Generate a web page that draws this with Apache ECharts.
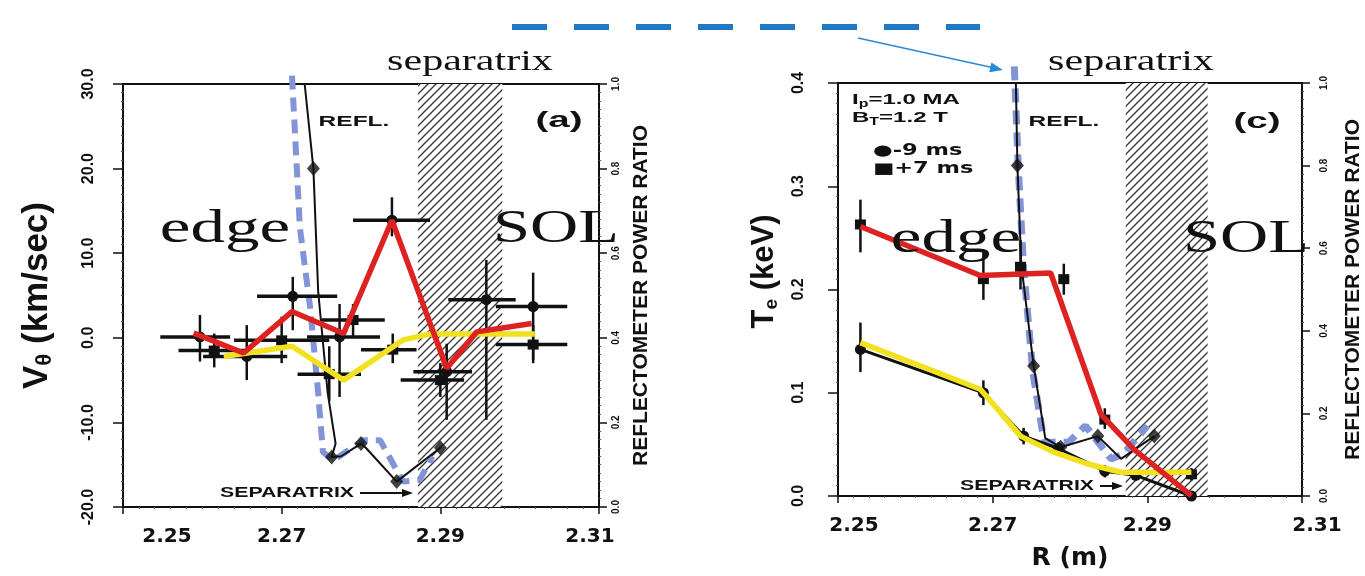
<!DOCTYPE html>
<html><head><meta charset="utf-8">
<script src="https://cdn.jsdelivr.net/npm/echarts@6/dist/echarts.min.js"></script>
<style>html,body{margin:0;padding:0;background:#fff}#c{width:1365px;height:576px}</style>
</head><body><div id="c"></div>
<script>
// ---------- axes ----------
const xTicksR = [2.25, 2.27, 2.29, 2.31];
const sepBand = [2.2872, 2.2978];          // hatched separatrix band (R, m)

// ---------- panel (a): V_theta (km/s) ----------
const aRed    = [[2.2589,0.55],[2.2652,-1.8],[2.2713,3.1],[2.2778,0.5],[2.2839,13.9],[2.2908,-3.6],[2.2946,0.7],[2.3015,1.7]];
const aYellow = [[2.2627,-2.2],[2.2713,-1.0],[2.2778,-5.0],[2.2853,-0.25],[2.2887,0.45],[2.3019,0.45]];
// [R, V, Rlo, Rhi, Vlo, Vhi]
const aCircle = [[2.2597,0.1,2.2547,2.2635,-2.8,2.7],[2.2656,-2.2,2.2601,2.2707,-5.0,1.5],[2.2714,4.9,2.2669,2.2770,0.9,7.2],
                 [2.2773,0.1,2.2732,2.2824,-7.0,4.0],[2.2839,13.9,2.2790,2.2887,12.0,16.6],[2.2908,-4.0,2.2866,2.2940,-9.7,-0.7],
                 [2.2958,4.5,2.2910,2.2995,-9.7,9.2],[2.3017,3.7,2.2970,2.3060,-2.6,7.7]];
const aSquare = [[2.2615,-1.5,2.2570,2.2660,-3.5,0.5],[2.2700,-0.3,2.2640,2.2760,-3.0,2.5],[2.2760,-4.3,2.2720,2.2800,-7.5,-1.0],
                 [2.2790,2.1,2.2750,2.2830,0.0,4.0],[2.2840,-1.4,2.2800,2.2870,-3.0,0.5],[2.2900,-5.0,2.2850,2.2930,-7.0,-3.0],
                 [2.3017,-0.8,2.2970,2.3060,-3.0,1.5]];
const aRefl      = [[2.2729,1.0],[2.2740,0.80],[2.2746,0.51],[2.2758,0.27],[2.2768,0.15],[2.2763,0.118],[2.2775,0.12],[2.2800,0.15],[2.2806,0.14],[2.2845,0.06],[2.2900,0.14]];
const aReflMarks = [[2.2740,0.80],[2.2763,0.118],[2.2800,0.15],[2.2845,0.06],[2.2900,0.14]];
const aBlue      = [[2.2713,1.02],[2.2723,0.66],[2.2736,0.47],[2.2746,0.27],[2.2752,0.13],[2.2765,0.11],[2.2803,0.158],[2.2824,0.158],[2.2853,0.06],[2.2874,0.064],[2.2890,0.12]];

// ---------- panel (c): Te (keV) ----------
const cRed    = [[2.2529,0.261],[2.2684,0.2135],[2.2775,0.216],[2.2840,0.079],[2.2883,0.045],[2.2957,0.0003]];
const cYellow = [[2.2529,0.1485],[2.2684,0.1034],[2.2710,0.081],[2.2736,0.058],[2.2779,0.0425],[2.2823,0.031],[2.2866,0.023],[2.2957,0.023]];
const cCircle = [[2.2529,0.142,2.2529,2.2529,0.120,0.168],[2.2688,0.100,2.2688,2.2688,0.088,0.112],[2.2740,0.058,2.2740,2.2740,0.050,0.066],
                 [2.2785,0.046,2.2785,2.2785,0.040,0.052],[2.2845,0.024,2.2845,2.2845,0.018,0.030],[2.2885,0.020,2.2885,2.2885,0.015,0.025],
                 [2.2957,0.000,2.2957,2.2957,-0.004,0.004]];
const cSquare = [[2.2529,0.263,2.2529,2.2529,0.236,0.287],[2.2688,0.210,2.2688,2.2688,0.190,0.236],[2.2736,0.222,2.2736,2.2736,0.200,0.248],
                 [2.2792,0.210,2.2792,2.2792,0.195,0.225],[2.2845,0.074,2.2845,2.2845,0.065,0.085],[2.2957,0.021,2.2957,2.2957,0.015,0.027]];
const cRefl      = [[2.2730,1.0],[2.2732,0.80],[2.2737,0.56],[2.2753,0.315],[2.2768,0.14],[2.2788,0.118],[2.2836,0.145],[2.2866,0.09],[2.2909,0.145]];
const cReflMarks = [[2.2732,0.80],[2.2753,0.315],[2.2788,0.118],[2.2836,0.145],[2.2909,0.145]];
const cBlue      = [[2.2728,1.04],[2.2733,0.80],[2.2740,0.55],[2.2752,0.30],[2.2764,0.16],[2.2768,0.13],[2.2798,0.13],[2.2820,0.17],[2.2853,0.09],[2.2868,0.10],[2.2900,0.17]];

// ---------- hatch pattern ----------
const hc = document.createElement('canvas'); hc.width = 8; hc.height = 8;
const g = hc.getContext('2d');
g.fillStyle = '#fff'; g.fillRect(0,0,8,8);
g.strokeStyle = '#333'; g.lineWidth = 1.3;
g.beginPath(); g.moveTo(-2,10); g.lineTo(10,-2); g.moveTo(-2,2); g.lineTo(2,-2); g.moveTo(6,10); g.lineTo(10,6); g.stroke();
const hatch = { image: hc, repeat: 'repeat' };

const BK = '#111';
const SANS = "'Liberation Sans', Arial, sans-serif";
const SERIF = "'Liberation Serif', 'Times New Roman', serif";

function errSeries(data, shape, xi, yi) {
  return {
    type: 'custom', xAxisIndex: xi, yAxisIndex: yi, z: 4, data: data,
    encode: { x: 0, y: 1 },
    renderItem: function (params, api) {
      const x = api.value(0), y = api.value(1);
      const c = api.coord([x, y]);
      const a = api.coord([api.value(2), y]), b = api.coord([api.value(3), y]);
      const d = api.coord([x, api.value(4)]), e = api.coord([x, api.value(5)]);
      const ch = [];
      if (Math.abs(b[0] - a[0]) > 1) ch.push({ type: 'line', shape: { x1: a[0], y1: a[1], x2: b[0], y2: b[1] }, style: { stroke: BK, lineWidth: 3.5 } });
      ch.push({ type: 'line', shape: { x1: d[0], y1: d[1], x2: e[0], y2: e[1] }, style: { stroke: BK, lineWidth: 2.5 } });
      if (shape === 'circle') ch.push({ type: 'circle', shape: { cx: c[0], cy: c[1], r: 5.5 }, style: { fill: BK } });
      else ch.push({ type: 'rect', shape: { x: c[0] - 5.5, y: c[1] - 5, width: 11, height: 10 }, style: { fill: BK } });
      return { type: 'group', children: ch };
    }
  };
}

function xAxisDef(gi, lp, rp, withName) {
  const rich = {
    n: { fontFamily: "'DejaVu Sans', sans-serif", fontWeight: 'bold', fontSize: 20, color: BK },
    l: { fontFamily: "'DejaVu Sans', sans-serif", fontWeight: 'bold', fontSize: 20, color: BK, padding: [0, 0, 0, lp] },
    r: { fontFamily: "'DejaVu Sans', sans-serif", fontWeight: 'bold', fontSize: 20, color: BK, padding: rp }
  };
  const ax = {
    type: 'value', gridIndex: gi, min: xTicksR[0], max: xTicksR[xTicksR.length - 1], interval: 0.02,
    axisLine: { show: true, onZero: false, lineStyle: { color: BK, width: 2 } },
    axisTick: { show: true, length: 7, lineStyle: { color: BK, width: 1.5 } },
    minorTick: { show: true, splitNumber: 10, length: 2, lineStyle: { color: '#555', width: 1 } },
    splitLine: { show: false },
    axisLabel: {
      margin: 20, rich: rich,
      formatter: function (v) {
        const s = v.toFixed(2);
        if (Math.abs(v - xTicksR[0]) < 1e-6) return '{l|' + s + '}';
        if (Math.abs(v - xTicksR[3]) < 1e-6) return '{r|' + s + '}';
        return '{n|' + s + '}';
      }
    }
  };
  if (withName) {
    ax.name = 'R (m)'; ax.nameLocation = 'middle'; ax.nameGap = 50;
    ax.nameTextStyle = { fontFamily: "'DejaVu Sans', sans-serif", fontWeight: 'bold', fontSize: 25, color: BK };
  }
  return ax;
}

function yLeft(gi, min, max, step, dec, name, gap, margin, fs, pad) {
  return {
    type: 'value', gridIndex: gi, position: 'left', min: min, max: max, interval: step,
    name: name, nameLocation: 'middle', nameGap: gap, nameRotate: 90,
    nameTextStyle: { fontFamily: SANS, fontWeight: 'bold', fontSize: fs, color: BK, padding: pad,
      rich: { s: { fontFamily: SANS, fontWeight: 'bold', fontSize: Math.round(fs * 0.62), color: BK, verticalAlign: 'bottom', padding: [Math.round(fs * 0.45), 0, 0, 0] } } },
    axisLine: { show: true, onZero: false, lineStyle: { color: BK, width: 2 } },
    axisTick: { show: true, length: 10, lineStyle: { color: BK, width: 1.5 } },
    minorTick: { show: true, splitNumber: 10, length: 2, lineStyle: { color: '#555', width: 1 } },
    splitLine: { show: false },
    axisLabel: { rotate: 90, margin: margin, fontFamily: SANS, fontWeight: 'bold', fontSize: 16, color: BK,
      formatter: function (v) { return v.toFixed(dec); } }
  };
}

function yRight(gi, gap, margin) {
  return {
    type: 'value', gridIndex: gi, position: 'right', min: 0, max: 1, interval: 0.2,
    name: 'REFLECTOMETER POWER RATIO', nameLocation: 'middle', nameGap: gap, nameRotate: 90,
    nameTextStyle: { fontFamily: SANS, fontWeight: 'bold', fontSize: 21, color: BK },
    axisLine: { show: true, onZero: false, lineStyle: { color: BK, width: 2 } },
    axisTick: { show: true, length: 8, lineStyle: { color: BK, width: 1.5 } },
    minorTick: { show: true, splitNumber: 10, length: 2, lineStyle: { color: '#555', width: 1 } },
    splitLine: { show: false },
    axisLabel: { rotate: 90, margin: margin, fontFamily: SANS, fontWeight: 'bold', fontSize: 10, color: BK,
      formatter: function (v) { return v.toFixed(1); } }
  };
}

function line(data, xi, yi, color, width, z, extra) {
  return Object.assign({ type: 'line', xAxisIndex: xi, yAxisIndex: yi, data: data, symbol: 'none', showSymbol: false,
    clip: false, z: z, lineStyle: { color: color, width: width }, emphasis: { disabled: true } }, extra || {});
}

function hatchArea() {
  return { silent: true, itemStyle: { color: hatch, borderWidth: 0 }, data: [[{ xAxis: sepBand[0] }, { xAxis: sepBand[1] }]] };
}

function txt(x, y, text, font, sx, extra) {
  return { type: 'text', x: x, y: y, scaleX: sx || 1, z: 100,
    style: Object.assign({ text: text, fill: BK, font: font, textAlign: 'center', align: 'center',
      textVerticalAlign: 'middle', verticalAlign: 'middle' }, (extra && extra.style) || {}) };
}
function arrowH(x1, x2, y, col, w) {
  return [
    { type: 'line', z: 100, shape: { x1: x1, y1: y, x2: x2 - 8, y2: y }, style: { stroke: col, lineWidth: w } },
    { type: 'polygon', z: 100, shape: { points: [[x2, y], [x2 - 11, y - 4], [x2 - 11, y + 4]] }, style: { fill: col } }
  ];
}

const chart = echarts.init(document.getElementById('c'), null, { renderer: 'canvas' });

const BLUE = '#8393d8', RED = '#dd2222', YEL = '#f2e11e';
const BASE = { style: { textVerticalAlign: 'alphabetic', verticalAlign: 'alphabetic' } };

const graphics = [
  // dashed legend line at the top and its arrow
  { type: 'line', z: 100, shape: { x1: 512, y1: 27, x2: 980, y2: 27 }, style: { stroke: '#1f78c4', lineWidth: 6, lineDash: [35, 27] } },
  { type: 'line', z: 100, shape: { x1: 858, y1: 38, x2: 992, y2: 67.5 }, style: { stroke: '#2a8ad8', lineWidth: 1.6 } },
  { type: 'polygon', z: 100, shape: { points: [[1003, 70], [989.2, 72.3], [991.4, 62.5]] }, style: { fill: '#2a8ad8' } },
  // panel (a)
  txt(470, 62, 'separatrix', '29px ' + SERIF, 1.45),
  txt(225, 207, 'edge', '46px ' + SERIF, 1.5, BASE),
  txt(556, 207, 'SOL', '46px ' + SERIF, 1.45, BASE),
  txt(354, 122, 'REFL.', 'bold 14px ' + SANS, 1.75),
  txt(559, 121, '(a)', 'bold 22px ' + SANS, 1.75),
  txt(287, 493, 'SEPARATRIX', 'bold 14px ' + SANS, 1.52),
  // panel (c)
  txt(1131, 62, 'separatrix', '29px ' + SERIF, 1.45),
  txt(956, 217, 'edge', '46px ' + SERIF, 1.5, BASE),
  txt(1246, 217, 'SOL', '46px ' + SERIF, 1.45, BASE),
  txt(1064, 122, 'REFL.', 'bold 14px ' + SANS, 1.75),
  txt(1257, 122, '(c)', 'bold 22px ' + SANS, 1.75),
  txt(1027, 486, 'SEPARATRIX', 'bold 14px ' + SANS, 1.52),
  { type: 'text', x: 852, y: 100, scaleX: 1.6, z: 100, style: { text: 'I{s|p}=1.0 MA', fill: BK, font: 'bold 15px ' + SANS, textAlign: 'left', align: 'left', textVerticalAlign: 'middle', verticalAlign: 'middle',
      rich: { s: { font: 'bold 10px ' + SANS, fill: BK, padding: [8, 0, 0, 0] } } } },
  { type: 'text', x: 852, y: 118, scaleX: 1.6, z: 100, style: { text: 'B{s|T}=1.2 T', fill: BK, font: 'bold 15px ' + SANS, textAlign: 'left', align: 'left', textVerticalAlign: 'middle', verticalAlign: 'middle',
      rich: { s: { font: 'bold 10px ' + SANS, fill: BK, padding: [8, 0, 0, 0] } } } },
  { type: 'text', x: 873, y: 151, scaleX: 1.5, z: 100, style: { text: '\u25CF-9 ms', fill: BK, font: "bold 15px 'DejaVu Sans', sans-serif", textAlign: 'left', align: 'left', textVerticalAlign: 'middle', verticalAlign: 'middle' } },
  { type: 'text', x: 873, y: 169, scaleX: 1.5, z: 100, style: { text: '\u25A0+7 ms', fill: BK, font: "bold 15px 'DejaVu Sans', sans-serif", textAlign: 'left', align: 'left', textVerticalAlign: 'middle', verticalAlign: 'middle' } }
].concat(arrowH(360, 413, 493, BK, 2)).concat(arrowH(1100, 1123, 486, BK, 2));

const option = {
  animation: false,
  backgroundColor: '#fff',
  grid: [
    { left: 123, right: 766, top: 84, bottom: 69, show: true, borderColor: BK, borderWidth: 2, backgroundColor: 'transparent' },
    { left: 838, right: 63, top: 83, bottom: 79, show: true, borderColor: BK, borderWidth: 2, backgroundColor: 'transparent' }
  ],
  xAxis: [xAxisDef(0, 88, [0, 18, 0, 0], false), xAxisDef(1, 32, [0, 0, 0, 30], true)],
  yAxis: [
    yLeft(0, -20, 30, 10, 1, 'V{s|\u03B8} (km/sec)', 67, 26, 35, [0, 0, 0, 0]),
    yRight(0, 32, 12),
    yLeft(1, 0, 0.4, 0.1, 1, 'T{s|e} (keV)', 57, 31, 31, [0, 0, 0, 36]),
    yRight(1, 41, 17)
  ],
  series: [
    // panel (a)
    line(aBlue, 0, 1, BLUE, 6, 1, { lineStyle: { color: BLUE, width: 6, type: [14, 8] }, markArea: hatchArea() }),
    line(aRefl, 0, 1, BK, 2, 3),
    { type: 'scatter', xAxisIndex: 0, yAxisIndex: 1, data: aReflMarks, symbol: 'diamond', symbolSize: [13, 15], itemStyle: { color: BK }, z: 3, silent: true },
    errSeries(aCircle, 'circle', 0, 0),
    errSeries(aSquare, 'square', 0, 0),
    line(aYellow, 0, 0, YEL, 5.5, 6),
    line(aRed, 0, 0, RED, 5.5, 7),
    // panel (c)
    line(cBlue, 1, 3, BLUE, 7, 1, { lineStyle: { color: BLUE, width: 7, type: [14, 8] }, markArea: hatchArea() }),
    line(cRefl, 1, 3, BK, 2, 3),
    { type: 'scatter', xAxisIndex: 1, yAxisIndex: 3, data: cReflMarks, symbol: 'diamond', symbolSize: [13, 15], itemStyle: { color: BK }, z: 3, silent: true },
    line(cCircle.map(function (p) { return [p[0], p[1]]; }), 1, 2, BK, 3, 4),
    errSeries(cCircle, 'circle', 1, 2),
    errSeries(cSquare, 'square', 1, 2),
    line(cYellow, 1, 2, YEL, 5.5, 6),
    line(cRed, 1, 2, RED, 5.5, 7)
  ],
  graphic: graphics
};
chart.setOption(option);
</script>
</body></html>
